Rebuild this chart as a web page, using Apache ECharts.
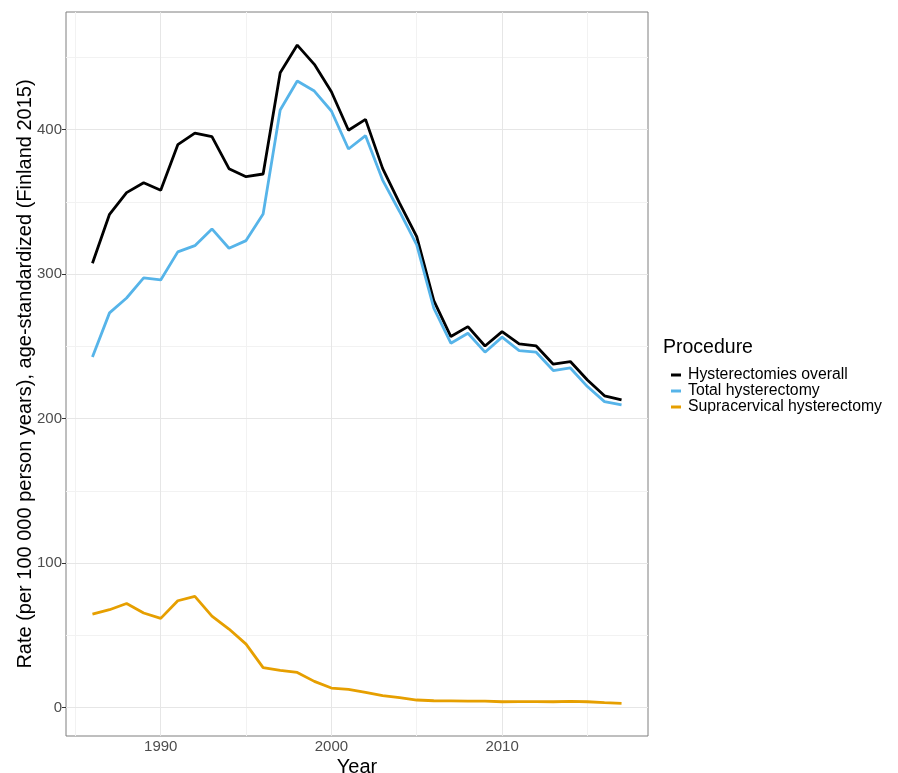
<!DOCTYPE html>
<html>
<head>
<meta charset="utf-8">
<script src="https://cdn.jsdelivr.net/npm/echarts@6/dist/echarts.min.js"></script>
<style>
html,body{margin:0;padding:0;background:#fff;}
#chart{width:898px;height:773px;}
</style>
</head>
<body>
<div id="chart"></div>
<script>
// ---- Data ----
const years = [1986,1987,1988,1989,1990,1991,1992,1993,1994,1995,1996,1997,1998,1999,2000,2001,2002,2003,2004,2005,2006,2007,2008,2009,2010,2011,2012,2013,2014,2015,2016,2017];
const overall = [307.5,341.4,356.4,363.3,358.0,389.6,397.6,395.1,373.0,367.4,369.3,439.4,458.5,445.2,426.2,399.6,407.1,373.2,349.0,325.9,281.7,256.8,263.7,250.3,260.2,251.7,250.3,237.7,239.5,226.8,215.8,213.0];
const total = [242.7,273.2,283.5,297.4,296.0,315.4,319.7,331.3,317.9,323.2,341.6,413.6,433.6,426.7,412.9,386.6,395.8,365.1,343.2,320.2,276.4,252.2,259.1,246.0,256.4,247.1,246.0,233.3,235.1,222.2,211.8,209.5];
const supracervical = [64.8,67.8,72.1,65.5,61.8,74.0,77.0,63.4,54.4,44.0,27.7,25.8,24.4,18.2,13.6,12.7,10.6,8.3,6.9,5.3,4.8,4.7,4.6,4.5,4.1,4.2,4.2,4.1,4.4,4.1,3.5,3.0];
const seriesNames = ["Hysterectomies overall","Total hysterectomy","Supracervical hysterectomy"];
const yMajor = [0,100,200,300,400];
const yMinor = [50,150,250,350,450];
const xMajor = [1990,2000,2010];
const xMinor = [1985,1995,2005,2015];

const FONT = "'Liberation Sans', Arial, Helvetica, sans-serif";
const pair = arr => years.map((y,i)=>[y,arr[i]]);

const gridData = [
  ...yMinor.map(v=>({yAxis:v, lineStyle:{color:'#f2f2f2', width:1, type:'solid'}})),
  ...xMinor.map(v=>({xAxis:v, lineStyle:{color:'#f2f2f2', width:1, type:'solid'}})),
  ...yMajor.map(v=>({yAxis:v, lineStyle:{color:'#e6e6e6', width:1, type:'solid'}})),
  ...xMajor.map(v=>({xAxis:v, lineStyle:{color:'#e6e6e6', width:1, type:'solid'}}))
];

const chart = echarts.init(document.getElementById('chart'), null, {renderer:'canvas'});
chart.setOption({
  animation:false,
  backgroundColor:'#ffffff',
  grid:{left:66, right:250, top:12, bottom:37, show:true, borderColor:'#7f7f7f', borderWidth:1, backgroundColor:'transparent', containLabel:false, outerBoundsMode:'none'},
  xAxis:{
    type:'value', min:1984.45, max:2018.55,
    name:'Year', nameLocation:'middle', nameGap:21, nameMoveOverlap:false,
    nameTextStyle:{fontFamily:FONT, fontSize:20, color:'#000'},
    axisLine:{show:false},
    splitLine:{show:false},
    axisTick:{show:true, length:4, lineStyle:{color:'#333'}, customValues:xMajor},
    axisLabel:{fontFamily:FONT, fontSize:15, color:'#4d4d4d', margin:3, customValues:xMajor, formatter:v=>String(v)}
  },
  yAxis:{
    type:'value', min:-19.6, max:481.4,
    name:'Rate (per 100 000 person years), age-standardized (Finland 2015)',
    nameLocation:'middle', nameGap:31, nameMoveOverlap:false,
    nameTextStyle:{fontFamily:FONT, fontSize:20, color:'#000'},
    axisLine:{show:false},
    splitLine:{show:false},
    axisTick:{show:true, length:4, lineStyle:{color:'#333'}, customValues:yMajor},
    axisLabel:{fontFamily:FONT, fontSize:15, color:'#4d4d4d', margin:4, customValues:yMajor, formatter:v=>String(v)}
  },
  legend:{
    orient:'vertical', left:671, top:367, padding:0,
    itemWidth:10, itemHeight:3, itemGap:0,
    icon:'rect',
    textStyle:{fontFamily:FONT, fontSize:15.8, color:'#000', lineHeight:16, padding:[0,0,0,2]},
    data:seriesNames
  },
  graphic:[{
    type:'text', left:663, top:338,
    style:{text:'Procedure', fontFamily:FONT, fontSize:19.5, fill:'#000'}
  }],
  series:[
    {type:'line', name:'grid', data:[], silent:true, z:1,
     markLine:{silent:true, z:1, symbol:['none','none'], label:{show:false}, emphasis:{disabled:true}, animation:false, data:gridData}},
    {type:'line', name:seriesNames[0], data:pair(overall), showSymbol:false, z:10,
     lineStyle:{color:'#000000', width:2.8}, itemStyle:{color:'#000000'}},
    {type:'line', name:seriesNames[1], data:pair(total), showSymbol:false, z:10,
     lineStyle:{color:'#56B4E9', width:2.8}, itemStyle:{color:'#56B4E9'}},
    {type:'line', name:seriesNames[2], data:pair(supracervical), showSymbol:false, z:10,
     lineStyle:{color:'#E69F00', width:2.8}, itemStyle:{color:'#E69F00'}}
  ]
});
</script>
</body>
</html>
